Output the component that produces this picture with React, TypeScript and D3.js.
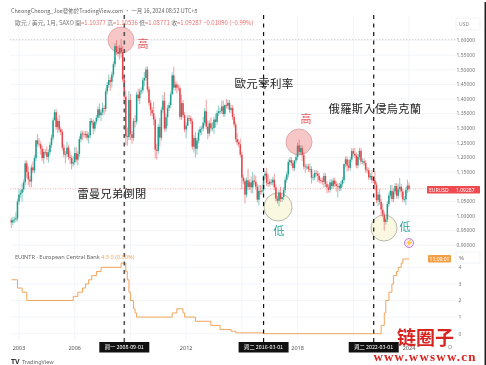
import React from "react";
import * as d3 from "d3";

const W = 486, H = 365;
const CJK = "'Noto Sans CJK TC','Noto Sans',sans-serif";
const CJK_SC = "'Noto Sans CJK SC','Noto Sans',sans-serif";
const LAT = "'Noto Sans','Liberation Sans',sans-serif";

// Monthly closes, Aug 2002 .. Jan 2024
const firstOpen = 0.985;
const closes = [
  0.978, 0.986, 0.988, 0.992, 1.049,
  1.073, 1.079, 1.091, 1.115, 1.18, 1.15, 1.125, 1.118, 1.166, 1.156, 1.198, 1.259,
  1.247, 1.245, 1.23, 1.198, 1.219, 1.218, 1.202, 1.218, 1.243, 1.268, 1.327, 1.355,
  1.304, 1.325, 1.296, 1.287, 1.234, 1.21, 1.212, 1.234, 1.202, 1.198, 1.179, 1.184,
  1.215, 1.193, 1.212, 1.263, 1.282, 1.279, 1.277, 1.281, 1.268, 1.276, 1.325, 1.32,
  1.299, 1.323, 1.336, 1.365, 1.345, 1.354, 1.369, 1.366, 1.426, 1.448, 1.465, 1.459,
  1.484, 1.519, 1.581, 1.561, 1.555, 1.575, 1.561, 1.467, 1.408, 1.273, 1.27, 1.397,
  1.28, 1.267, 1.325, 1.323, 1.415, 1.403, 1.426, 1.43, 1.464, 1.472, 1.501, 1.433,
  1.387, 1.363, 1.351, 1.33, 1.227, 1.223, 1.305, 1.268, 1.363, 1.394, 1.299, 1.338,
  1.369, 1.379, 1.416, 1.481, 1.439, 1.45, 1.439, 1.437, 1.339, 1.386, 1.345, 1.296,
  1.309, 1.335, 1.334, 1.324, 1.237, 1.267, 1.23, 1.258, 1.285, 1.297, 1.299, 1.319,
  1.358, 1.306, 1.282, 1.317, 1.3, 1.301, 1.33, 1.322, 1.352, 1.358, 1.359, 1.375,
  1.349, 1.38, 1.377, 1.387, 1.363, 1.369, 1.339, 1.313, 1.263, 1.252, 1.245, 1.21,
  1.131, 1.119, 1.073, 1.122, 1.099, 1.115, 1.098, 1.121, 1.117, 1.1, 1.056, 1.086,
  1.083, 1.087, 1.138, 1.145, 1.113, 1.11, 1.117, 1.115, 1.124, 1.098, 1.059, 1.052,
  1.08, 1.058, 1.065, 1.089, 1.124, 1.142, 1.184, 1.191, 1.181, 1.164, 1.19, 1.201,
  1.241, 1.219, 1.232, 1.208, 1.169, 1.168, 1.169, 1.16, 1.16, 1.131, 1.132, 1.147,
  1.145, 1.137, 1.122, 1.121, 1.117, 1.137, 1.109, 1.098, 1.09, 1.115, 1.102, 1.121,
  1.109, 1.103, 1.103, 1.095, 1.11, 1.123, 1.178, 1.194, 1.172, 1.165, 1.193, 1.222,
  1.213, 1.207, 1.173, 1.202, 1.223, 1.186, 1.187, 1.181, 1.158, 1.156, 1.132, 1.137,
  1.123, 1.122, 1.107, 1.054, 1.073, 1.048, 1.022, 1.005, 0.98, 0.988, 1.041, 1.07,
  1.086, 1.058, 1.084, 1.102, 1.069, 1.091, 1.1, 1.084, 1.057, 1.057, 1.089, 1.104,
  1.093,
];
// Wick lengths, in hundredths
const upperWicks = [
  1, 1, 1, 2, 1,
  2, 1, 2, 1, 1, 1, 2, 1, 1, 2, 1, 0,
  2, 2, 1, 1, 1, 1, 2, 1, 1, 1, 1, 1,
  1, 1, 2, 1, 1, 1, 1, 2, 1, 2, 1, 2,
  2, 2, 1, 1, 1, 1, 1, 1, 1, 1, 1, 1,
  1, 0, 1, 1, 2, 1, 2, 1, 1, 1, 2, 1,
  1, 1, 1, 2, 2, 1, 3, 2, 1, 2, 3, 3,
  2, 1, 1, 2, 1, 2, 1, 1, 1, 2, 1, 1,
  1, 1, 1, 4, 1, 2, 1, 3, 1, 2, 3, 1,
  1, 1, 1, 1, 3, 1, 1, 1, 1, 3, 1, 1,
  1, 1, 1, 1, 1, 1, 2, 1, 1, 1, 1, 2,
  1, 4, 2, 1, 2, 2, 1, 2, 1, 2, 1, 2,
  2, 0, 2, 1, 1, 1, 1, 1, 1, 2, 1, 2,
  1, 1, 1, 1, 4, 1, 2, 3, 2, 2, 1, 2,
  2, 2, 0, 1, 2, 3, 1, 1, 1, 2, 1, 1,
  1, 2, 0, 1, 1, 1, 1, 1, 1, 1, 0, 1,
  1, 2, 1, 1, 1, 1, 1, 1, 2, 1, 1, 1,
  1, 1, 1, 1, 1, 1, 1, 1, 1, 1, 1, 1,
  1, 1, 1, 1, 1, 1, 0, 1, 1, 2, 1, 1,
  1, 2, 1, 1, 1, 1, 1, 1, 1, 1, 1, 1,
  2, 1, 3, 1, 1, 2, 1, 2, 1, 1, 1, 1,
  2, 2, 1, 1, 1, 2, 3, 1, 1, 1, 1, 2,
  1,
];
const lowerWicks = [
  2, 1, 1, 1, 1,
  1, 1, 3, 1, 1, 2, 2, 2, 2, 1, 1, 1,
  1, 1, 2, 1, 2, 1, 1, 2, 1, 1, 1, 0,
  1, 2, 1, 1, 1, 1, 3, 1, 1, 2, 2, 1,
  1, 1, 2, 1, 1, 2, 1, 1, 1, 2, 1, 1,
  2, 1, 1, 1, 1, 2, 1, 2, 1, 1, 1, 3,
  2, 1, 1, 1, 1, 2, 2, 1, 3, 3, 3, 1,
  2, 2, 1, 2, 1, 1, 2, 1, 1, 2, 1, 1,
  1, 2, 1, 2, 3, 3, 1, 3, 1, 1, 1, 1,
  3, 1, 1, 0, 1, 1, 2, 1, 1, 1, 1, 1,
  3, 0, 1, 1, 1, 2, 3, 2, 1, 1, 2, 1,
  1, 1, 2, 1, 1, 1, 2, 2, 1, 1, 1, 1,
  1, 1, 1, 1, 1, 1, 1, 1, 1, 1, 1, 1,
  4, 1, 3, 1, 1, 1, 2, 2, 1, 1, 1, 2,
  1, 1, 1, 1, 1, 1, 1, 1, 1, 1, 1, 1,
  2, 1, 1, 1, 1, 1, 1, 1, 1, 1, 1, 1,
  1, 1, 1, 2, 1, 2, 1, 1, 1, 2, 1, 1,
  1, 2, 1, 1, 1, 2, 1, 2, 1, 1, 1, 1,
  1, 2, 4, 1, 1, 1, 1, 1, 2, 1, 1, 1,
  1, 1, 1, 1, 1, 1, 1, 1, 1, 1, 1, 1,
  1, 1, 2, 1, 2, 1, 2, 1, 3, 1, 1, 1,
  1, 1, 1, 1, 1, 1, 1, 2, 1, 1, 2, 1,
  1,
];

const rateYears = [2002.6, 2002.92, 2003.17, 2003.42, 2005.92, 2006.17, 2006.42, 2006.58, 2006.75, 2006.92, 2007.17, 2007.42, 2008.5, 2008.75, 2008.83, 2008.92, 2009, 2009.17, 2009.25, 2009.33, 2011.25, 2011.5, 2011.83, 2011.92, 2012.5, 2013.33, 2013.83, 2014.42, 2014.67, 2016.17, 2022.5, 2022.67, 2022.75, 2022.92, 2023.08, 2023.17, 2023.33, 2023.42, 2023.58, 2023.67, 2024];
const rateValues = [3.25, 2.75, 2.5, 2.0, 2.25, 2.5, 2.75, 3.0, 3.25, 3.5, 3.75, 4.0, 4.25, 3.75, 3.25, 2.5, 2.0, 1.5, 1.25, 1.0, 1.25, 1.5, 1.25, 1.0, 0.75, 0.5, 0.25, 0.15, 0.05, 0, 0.5, 1.25, 2.0, 2.5, 3.0, 3.5, 3.75, 4.0, 4.25, 4.5, 4.5];

const priceTicks = [1.6, 1.55, 1.5, 1.45, 1.4, 1.35, 1.3, 1.25, 1.2, 1.15, 1.05, 1.0, 0.95, 0.9];
const rateTicks = [4, 3, 2, 1, 0];
const yearTicks = [2003, 2006, 2012, 2018, 2024];
const gridYears = [2003, 2006, 2009, 2012, 2015, 2018, 2021, 2024];
const events = [
  { year: 2008.67, label: "週一 2008-09-01", color: "#555", w: 1.6 },
  { year: 2016.17, label: "週二 2016-03-01", color: "#111", w: 1.2 },
  { year: 2022.1, label: "週二 2022-03-01", color: "#111", w: 1.2 },
];
const circles = [
  { cx: 121, cy: 40, r: 13, fill: "#f7c6c6", stroke: "#e0a0a0" },
  { cx: 299, cy: 142, r: 13, fill: "#f7c6c6", stroke: "#d8a0a0" },
  { cx: 278, cy: 207, r: 14, fill: "#fbf8e2", stroke: "#a8a89a" },
  { cx: 384, cy: 228, r: 13, fill: "#fbf8e2", stroke: "#a8a89a" },
];
const marks = [
  { x: 143, y: 48, t: "高", c: "#e0575a" },
  { x: 306, y: 123, t: "高", c: "#e0575a" },
  { x: 279, y: 235, t: "低", c: "#2ba69a" },
  { x: 405, y: 231, t: "低", c: "#2ba69a" },
];
const headlines = [
  { x: 264, y: 88, t: "歐元零利率", s: 11.5 },
  { x: 375, y: 113, t: "俄羅斯入侵烏克蘭", s: 11.3 },
  { x: 112, y: 198, t: "雷曼兄弟倒閉", s: 11.2 },
];

export default function App() {
  const x = d3.scaleLinear().domain([2003, 2024]).range([19, 409]);
  const yP = d3.scaleLinear().domain([0.9, 1.6]).range([245.2, 40.6]);
  const yR = d3.scaleLinear().domain([0, 4]).range([333.7, 267.3]);
  const line = d3.line<number>()
    .x((_, i) => x(rateYears[i]))
    .y((d) => yR(d))
    .curve(d3.curveStepAfter);
  const candles = closes.map((c, i) => {
    const o = i === 0 ? firstOpen : closes[i - 1];
    return {
      o, c,
      h: Math.max(o, c) + upperWicks[i] / 100,
      l: Math.min(o, c) - lowerWicks[i] / 100,
      t: 2002 + (7 + i) / 12,
    };
  });
  const last = closes[closes.length - 1];
  return (
    <svg width={W} height={H} viewBox={`0 0 ${W} ${H}`}
      style={{ position: "absolute", left: 0, top: 0, background: "#fff", filter: "blur(0.25px)" }}>
      {/* grid */}
      {gridYears.map((g) => (
        <line key={g} x1={x(g)} x2={x(g)} y1={15} y2={340} stroke="#f0f2f7" strokeWidth={0.8} />
      ))}
      {priceTicks.map((p) => (
        <line key={p} x1={10} x2={456} y1={yP(p)} y2={yP(p)} stroke="#f0f2f7" strokeWidth={0.8} />
      ))}
      {rateTicks.map((p) => (
        <line key={p} x1={10} x2={456} y1={yR(p)} y2={yR(p)} stroke="#f0f2f7" strokeWidth={0.8} />
      ))}
      <line x1={10} x2={456} y1={39.5} y2={39.5} stroke="#c9c9c9" strokeWidth={0.7} strokeDasharray="1.5 1.5" />
      <line x1={10} x2={456} y1={yP(last)} y2={yP(last)} stroke="#ec8a8a" strokeWidth={0.7} strokeDasharray="1 1.5" />

      {/* annotation circles, under candles */}
      {circles.map((c, i) => (
        <circle key={i} cx={c.cx} cy={c.cy} r={c.r} fill={c.fill} stroke={c.stroke} strokeWidth={0.8} />
      ))}

      {/* candles */}
      {candles.map((d, i) => {
        const col = d.c >= d.o ? "#1f9c8d" : "#e5464b";
        const top = yP(Math.max(d.o, d.c));
        const bot = yP(Math.min(d.o, d.c));
        return (
          <g key={i}>
            <line x1={x(d.t)} x2={x(d.t)} y1={yP(d.h)} y2={yP(d.l)} stroke={col} strokeOpacity={0.65} strokeWidth={0.8} />
            <rect x={x(d.t) - 0.75} width={1.5} y={top} height={Math.max(0.7, bot - top)} fill={col} />
          </g>
        );
      })}

      {/* rate */}
      <path d={line(rateValues) ?? ""} fill="none" stroke="#f0a55c" strokeWidth={1} />

      {/* event lines */}
      {events.map((e) => (
        <line key={e.year} x1={x(e.year)} x2={x(e.year)} y1={15} y2={342} stroke={e.color} strokeWidth={e.w} strokeDasharray="4 4.5" />
      ))}

      {/* header */}
      <text x={11} y={12.5} fontFamily={CJK} fontSize={5.5} fill="#666">CheongCheong_Joe發佈於TradingView.com · 一月 16, 2024 08:52 UTC+8</text>
      <text x={15} y={25} fontFamily={CJK} fontSize={5.95} fill="#777">
        歐元 / 美元, 1月, SAXO  開
        <tspan fill="#ef7070">=1.10377</tspan> 高<tspan fill="#ef7070">=1.10536</tspan> 低<tspan fill="#ef7070">=1.08771</tspan> 收<tspan fill="#ef7070">=1.09287  −0.01090 (−0.99%)</tspan>
      </text>
      <text x={15} y={258.5} fontFamily={LAT} fontSize={5.6} fill="#666">
        EUINTR · European Central Bank  <tspan fill="#f0a55c">4.5  0 (0.00%)</tspan>
      </text>

      {/* big labels */}
      {headlines.map((h) => (
        <text key={h.t} x={h.x} y={h.y} fontFamily={CJK} fontSize={h.s} fill="#222" textAnchor="middle" letterSpacing={0.3}>{h.t}</text>
      ))}
      {marks.map((m, i) => (
        <text key={i} x={m.x} y={m.y} fontFamily={CJK} fontSize={11} fill={m.c} textAnchor="middle">{m.t}</text>
      ))}
      <circle cx={409} cy={243} r={4.5} fill="#f6e8fb" stroke="#b060d0" strokeWidth={0.8} />
      <text x={409} y={245.2} fontFamily={LAT} fontSize={6.5} fill="#a040c8" textAnchor="middle">⚡</text>

      {/* right axis */}
      <rect x={456} y={18} width={24} height={12} fill="#fff" stroke="#eceef3" strokeWidth={0.7} />
      <text x={459} y={26} fontFamily={LAT} fontSize={5} fill="#888">USD</text>
      {priceTicks.map((p) => (
        <text key={p} x={456.5} y={yP(p) + 1.8} fontFamily={LAT} fontSize={5} fill="#777">{d3.format(".5f")(p)}</text>
      ))}
      {rateTicks.map((p) => (
        <text key={p} x={458.5} y={yR(p) + 1.8} fontFamily={LAT} fontSize={5} fill="#777">{p}</text>
      ))}
      <rect x={456} y={252} width={24} height={11} fill="#fff" stroke="#eceef3" strokeWidth={0.7} />
      <text x={459} y={260} fontFamily={LAT} fontSize={6} fill="#777">%</text>

      <rect x={427} y={186} width={53} height={7.5} fill="#ee4a4f" rx={0.8} />
      <text x={429} y={191.8} fontFamily={LAT} fontSize={5} fill="#fff">EURUSD</text>
      <text x={456} y={191.8} fontFamily={LAT} fontSize={5} fill="#fff">1.09287</text>
      <rect x={428} y={255} width={23} height={7.5} fill="#f5a047" rx={0.8} />
      <text x={439.5} y={260.8} fontFamily={LAT} fontSize={5} fill="#fff" textAnchor="middle">11:09:01</text>

      {/* time axis */}
      {yearTicks.map((y) => (
        <text key={y} x={x(y)} y={349.5} fontFamily={LAT} fontSize={5.5} fill="#555" textAnchor="middle">{y}</text>
      ))}
      {events.map((e) => (
        <g key={e.label}>
          <rect x={x(e.year) - 25} y={342} width={50} height={10.5} fill="#111" />
          <text x={x(e.year)} y={349.2} fontFamily={CJK} fontSize={5.3} fill="#fff" textAnchor="middle">{e.label}</text>
        </g>
      ))}
      <circle cx={450} cy={347} r={1.8} fill="none" stroke="#999" strokeWidth={0.7} />

      {/* logo */}
      <text x={11} y={364} fontFamily={LAT} fontSize={7} fontWeight={700} fill="#333">TV</text>
      <text x={22} y={364} fontFamily={LAT} fontSize={5.5} fill="#666">TradingView</text>

      {/* right strip */}
      <rect x={484.5} y={2} width={1.5} height={363} fill="#222" />

      {/* watermark */}
      <text x={425.5} y={344.5} fontFamily={CJK_SC} fontSize={19} fontWeight={700} fill="#d8231f" textAnchor="middle">链圈子</text>
      <text x={425} y={361} fontFamily="'Liberation Serif',serif" fontSize={13} fontWeight={700} fill="#d8231f" textAnchor="middle" letterSpacing={1.2}>www.wwsww.cn</text>
    </svg>
  );
}
